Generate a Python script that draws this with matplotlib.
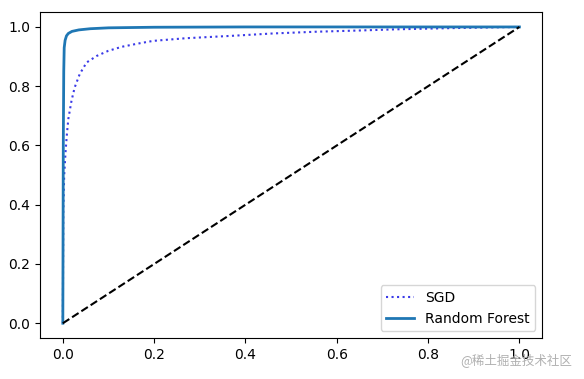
import matplotlib
matplotlib.use("Agg")
import matplotlib.pyplot as plt

# ROC points
fpr_sgd = [0, 0.0005, 0.001, 0.003, 0.006, 0.009, 0.012, 0.019, 0.026, 0.037, 0.052,
           0.074, 0.099, 0.129, 0.165, 0.198, 0.27, 0.37, 0.46, 0.557, 0.65, 0.73, 0.85, 1.0]
tpr_sgd = [0, 0.2, 0.38, 0.5, 0.58, 0.64, 0.689, 0.751, 0.796, 0.841, 0.88,
           0.902, 0.919, 0.933, 0.944, 0.953, 0.962, 0.97, 0.978, 0.984, 0.988, 0.992, 0.996, 1.0]

fpr_forest = [0, 0.001, 0.002, 0.003, 0.005, 0.008, 0.012, 0.02, 0.035, 0.06, 0.1, 0.2, 0.4, 1.0]
tpr_forest = [0, 0.6, 0.85, 0.93, 0.955, 0.97, 0.978, 0.985, 0.99, 0.994, 0.997, 0.999, 1.0, 1.0]

fig = plt.figure(figsize=(5.84, 3.79), dpi=100)
ax = fig.add_axes([0.0685, 0.108, 0.86, 0.86])

ax.plot(fpr_sgd, tpr_sgd, ":", color="#3a3ae8", label="SGD")
ax.plot(fpr_forest, tpr_forest, linewidth=2, label="Random Forest")
ax.plot([0, 1], [0, 1], "k--")
ax.legend(loc="lower right")

fig.text(0.98, 0.05, "@稀土掘金技术社区", ha="right", va="center", fontsize=9,
         color="#b0b0b0", family=["Noto Sans CJK SC", "DejaVu Sans"])

fig.savefig("out.png", dpi=100)
